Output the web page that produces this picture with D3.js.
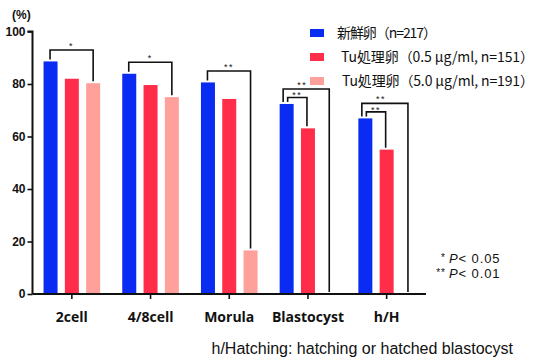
<!DOCTYPE html>
<html>
<head>
<meta charset="utf-8">
<script src="https://cdn.jsdelivr.net/npm/d3@7"></script>
<style>
  html, body { margin: 0; padding: 0; background: #fff; }
  svg { display: block; }
</style>
</head>
<body>
<svg id="chart" width="535" height="358"></svg>
<script>
// Developmental stages and rates (%) per treatment group
const categories = ["2cell", "4/8cell", "Morula", "Blastocyst", "h/H"];
const seriesNames = ["新鮮卵（n=217）", "Tu処理卵（0.5 μg/ml, n=151）", "Tu処理卵（5.0 μg/ml, n=191）"];
const fresh   = [88.6, 83.9, 80.6, 72.4, 66.9];
const tuLow   = [82.0, 79.6, 74.3, 63.1, 55.0];
const tuHigh  = [80.3, 75.0, 16.6, 0, 0];
const yTicks  = [0, 20, 40, 60, 80, 100];
// Significance brackets: category, series pair (from, to), mark, nesting level
const sigCategory = ["2cell", "4/8cell", "Morula", "Blastocyst", "Blastocyst", "h/H", "h/H"];
const sigFrom     = [0, 0, 0, 0, 0, 0, 0];
const sigTo       = [2, 2, 2, 2, 1, 2, 1];
const sigLabel    = ["*", "*", "**", "**", "**", "**", "**"];
const sigLevel    = ["single", "single", "single", "outer", "inner", "outer", "inner"];
// Significance thresholds shown in the note
const noteMarks   = ["*", "**"];
const noteP       = ["0.05", "0.01"];

const colors = ["#0a2cf2", "#ff2d4a", "#ffa09a"];
const series = [fresh, tuLow, tuHigh];

(function draw() {
  const svg = d3.select("#chart");
  const mLeft = 32.5, mRight = 426, mTop = 31.5, mBottom = 294;
  const ink = "#111";
  const sans = "Liberation Sans, Arial, sans-serif";

  const x = d3.scaleBand().domain(categories).range([mLeft, mRight]).paddingInner(0).paddingOuter(0);
  const y = d3.scaleLinear().domain([0, 100]).range([mBottom, mTop]);
  const barW = 14, step = 21.3;
  const barX = (ci, si) => x(categories[ci]) + x.bandwidth() / 2 + (si - 1) * step;

  // bars
  series.forEach((vals, si) => {
    svg.append("g").selectAll("rect").data(vals).join("rect")
      .attr("x", (d, ci) => barX(ci, si) - barW / 2)
      .attr("y", d => y(d))
      .attr("width", barW)
      .attr("height", d => mBottom - y(d))
      .attr("fill", colors[si]);
  });

  // y axis
  const yAxis = svg.append("g").attr("transform", `translate(${mLeft},0)`)
    .call(d3.axisLeft(y).tickValues(yTicks).tickSize(5).tickPadding(2));
  yAxis.select(".domain").attr("stroke", ink).attr("stroke-width", 2).attr("d", `M-5,${mTop}H0V${mBottom}`);
  yAxis.selectAll(".tick line").attr("stroke", ink).attr("stroke-width", 1.6);
  yAxis.selectAll(".tick text").attr("font-family", sans)
    .attr("font-weight", "bold").attr("font-size", 12).attr("fill", ink);

  // x axis
  const xAxis = svg.append("g").attr("transform", `translate(0,${mBottom})`)
    .call(d3.axisBottom(x).tickSize(5).tickPadding(13));
  xAxis.select(".domain").attr("stroke", ink).attr("stroke-width", 2).attr("d", `M${mLeft},0H${mRight}`);
  xAxis.selectAll(".tick line").attr("stroke", ink).attr("stroke-width", 1.6);
  xAxis.selectAll(".tick text").attr("font-family", "Open Sans, DejaVu Sans, sans-serif")
    .attr("font-weight", "bold").attr("font-size", 14).attr("fill", ink);

  // unit label
  svg.append("text").attr("x", 12).attr("y", 19)
    .attr("font-family", sans).attr("font-weight", "bold")
    .attr("font-size", 12).attr("fill", ink).text("(%)");

  // significance brackets
  const lift = { single: 11.5, inner: 6.5, outer: 15 };
  const leftShift = { single: -0.5, inner: 1, outer: -3.5 };
  const starDy = { single: -1.3, inner: 0.7, outer: -1 };
  const starDx = { single: 0, inner: 0, outer: -4 };
  sigCategory.forEach((cat, i) => {
    const ci = categories.indexOf(cat);
    const lvl = sigLevel[i];
    const x1 = barX(ci, sigFrom[i]) + leftShift[lvl];
    const x2 = barX(ci, sigTo[i]) + (lvl === "inner" ? -1 : 0);
    const v1 = series[sigFrom[i]][ci], v2 = series[sigTo[i]][ci];
    const yTop = y(v1) - lift[lvl];
    const y1 = y(v1) - 2, y2 = y(v2) - 2;
    svg.append("path")
      .attr("d", `M${x1},${y1}V${yTop}H${x2}V${y2}`)
      .attr("fill", "none").attr("stroke", ink).attr("stroke-width", 1.6);
    svg.append("text").attr("x", (x1 + x2) / 2 + starDx[lvl]).attr("y", yTop + starDy[lvl])
      .attr("text-anchor", "middle")
      .attr("font-family", sans).attr("font-size", 9)
      .attr("fill", ink).attr("letter-spacing", 1.5).text(sigLabel[i]);
  });

  // legend
  const legend = svg.append("g");
  const legendY = [33, 57, 81];
  const legendTx = [337, 341, 342];
  const legendLen = [100, 193, 192];
  seriesNames.forEach((name, i) => {
    legend.append("rect").attr("x", 310).attr("y", legendY[i] - 4)
      .attr("width", 14).attr("height", 8).attr("fill", colors[i]);
    legend.append("text").attr("x", legendTx[i]).attr("y", legendY[i] + 5)
      .attr("font-family", "Noto Sans CJK JP, sans-serif").attr("font-size", 14)
      .attr("textLength", legendLen[i]).attr("lengthAdjust", "spacing")
      .attr("fill", ink).text(name);
  });

  // p-value note
  const note = svg.append("g").attr("font-family", sans).attr("fill", ink);
  const noteBase = [263, 278];
  noteMarks.forEach((mark, i) => {
    note.append("text").attr("x", 446).attr("y", noteBase[i] - 2).attr("text-anchor", "end")
      .attr("font-size", 10).attr("letter-spacing", 1).text(mark);
    const t = note.append("text").attr("x", 449).attr("y", noteBase[i])
      .attr("font-size", 13).attr("letter-spacing", 0.9);
    t.append("tspan").attr("font-style", "italic").text("P");
    t.append("tspan").text("< " + noteP[i]);
  });

  // footnote
  svg.append("text").attr("x", 513).attr("y", 354).attr("text-anchor", "end")
    .attr("font-family", sans).attr("font-size", 16)
    .attr("fill", ink).text("h/Hatching: hatching or hatched blastocyst");
})();
</script>
</body>
</html>
